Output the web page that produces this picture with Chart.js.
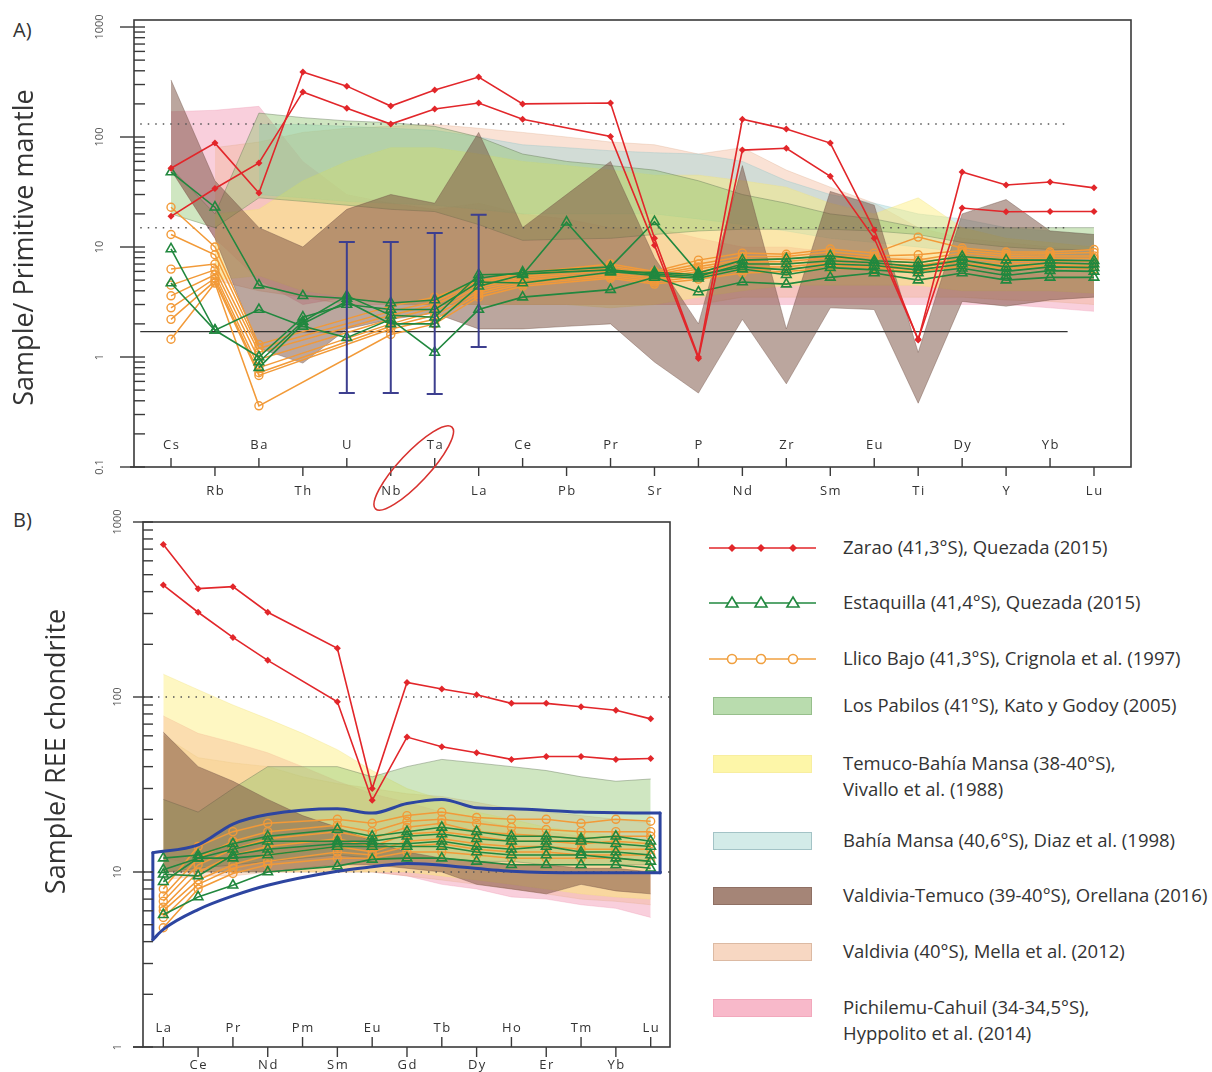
<!DOCTYPE html>
<html>
<head>
<meta charset="utf-8">
<script src="https://cdn.jsdelivr.net/npm/chart.js@4.4.1/dist/chart.umd.min.js"></script>
<style>
  html, body { margin: 0; padding: 0; background: #fff; }
  body { width: 1212px; height: 1072px; position: relative; overflow: hidden; font-family: "Open Sans", sans-serif; color: #333; }
  canvas { position: absolute; left: 0; }
  .panel { position: absolute; left: 13px; font-size: 20px; }
  .leg { position: absolute; left: 709px; width: 503px; height: 26px; }
  .leg svg { position: absolute; left: 0; top: 0; }
  .leg .rect { position: absolute; left: 4px; top: 4px; width: 97px; height: 16px; border: 1.5px solid; }
  .leg .tx { position: absolute; left: 134px; top: -1px; font-size: 18.5px; line-height: 26px; white-space: nowrap; }
</style>
</head>
<body>
<div class="panel" style="top:16px">A)</div>
<div class="panel" style="top:506px">B)</div>
<canvas id="cA" width="1212" height="512" style="top:0"></canvas>
<canvas id="cB" width="700" height="572" style="top:500px"></canvas>

<div class="leg" style="top:535px">
  <svg width="110" height="26"><line x1="0" y1="13" x2="107" y2="13" stroke="#e2262a" stroke-width="1.6"/>
    <polygon points="23,9 27,13 23,17 19,13" fill="#e2262a"/><polygon points="52,9 56,13 52,17 48,13" fill="#e2262a"/><polygon points="84,9 88,13 84,17 80,13" fill="#e2262a"/></svg>
  <div class="tx">Zarao (41,3°S), Quezada (2015)</div>
</div>
<div class="leg" style="top:590px">
  <svg width="110" height="26"><line x1="0" y1="13" x2="107" y2="13" stroke="#21883f" stroke-width="1.6"/>
    <polygon points="23,7 29,17 17,17" fill="#fff" stroke="#21883f" stroke-width="1.6"/><polygon points="52,7 58,17 46,17" fill="#fff" stroke="#21883f" stroke-width="1.6"/><polygon points="84,7 90,17 78,17" fill="#fff" stroke="#21883f" stroke-width="1.6"/></svg>
  <div class="tx">Estaquilla (41,4°S), Quezada (2015)</div>
</div>
<div class="leg" style="top:646px">
  <svg width="110" height="26"><line x1="0" y1="13" x2="107" y2="13" stroke="#f0a040" stroke-width="1.6"/>
    <circle cx="23" cy="13" r="4.5" fill="#fff" stroke="#f0a040" stroke-width="1.6"/><circle cx="52" cy="13" r="4.5" fill="#fff" stroke="#f0a040" stroke-width="1.6"/><circle cx="84" cy="13" r="4.5" fill="#fff" stroke="#f0a040" stroke-width="1.6"/></svg>
  <div class="tx">Llico Bajo (41,3°S), Crignola et al. (1997)</div>
</div>
<div class="leg" style="top:693px">
  <div class="rect" style="background:#b9dcae;border-color:#97bf8c"></div>
  <div class="tx">Los Pabilos (41°S), Kato y Godoy (2005)</div>
</div>
<div class="leg" style="top:751px">
  <div class="rect" style="background:#fdf6a8;border-color:#f8eea0"></div>
  <div class="tx">Temuco-Bahía Mansa (38-40°S),<br>Vivallo et al. (1988)</div>
</div>
<div class="leg" style="top:828px">
  <div class="rect" style="background:#d3ebe8;border-color:#a3c3c6"></div>
  <div class="tx">Bahía Mansa (40,6°S), Diaz et al. (1998)</div>
</div>
<div class="leg" style="top:883px">
  <div class="rect" style="background:#a58577;border-color:#8f7064"></div>
  <div class="tx">Valdivia-Temuco (39-40°S), Orellana (2016)</div>
</div>
<div class="leg" style="top:939px">
  <div class="rect" style="background:#f7d7c2;border-color:#dcbaa3"></div>
  <div class="tx">Valdivia (40°S), Mella et al. (2012)</div>
</div>
<div class="leg" style="top:995px">
  <div class="rect" style="background:#f8b9ca;border-color:#f2a8bc"></div>
  <div class="tx">Pichilemu-Cahuil (34-34,5°S),<br>Hyppolito et al. (2014)</div>
</div>

<script>
/* ---------- A) spider diagram, primitive mantle ---------- */
var catsA = ['Cs','Rb','Ba','Th','U','Nb','Ta','La','Ce','Pb','Pr','Sr','P','Nd','Zr','Sm','Eu','Ti','Dy','Y','Yb','Lu'];
var yTicksA = ['0.1', '1', '10', '100', '1000'];

var zaraoA1 = [52, 88, 31, 390, 290, 191, 268, 351, 200, null, 204, 12, 1.0, 145, 118, 88, 14.3, 1.43, 48, 36.6, 39, 34.5];
var zaraoA2 = [19, 34, 58, 257, 183, 131, 180, 204, 145, null, 101, 10.4, 0.97, 76, 79, 44, 12, 1.45, 22.6, 20.9, 21, 21];

var estaA1 = [48, 23, 4.5, 3.6, 3.4, 3.1, 3.3, 5.2, 5.9, null, 6.6, 17, 5.8, 7.6, 7.8, 8.3, 7.5, 7.2, 8.2, 7.6, 7.6, 7.5];
var estaA2 = [9.6, 1.75, 2.7, 1.9, 1.5, 2.2, 1.1, 2.7, 3.5, null, 4.1, 5.3, 3.9, 4.8, 4.6, 5.3, 5.8, 5.0, 5.8, 5.0, 5.3, 5.3];
var estaA3 = [4.7, 1.75, 1.0, 2.3, 3.0, 2.7, 2.7, 4.8, 4.7, null, 5.9, 5.9, 5.6, 6.6, 6.2, 7.0, 6.8, 6.2, 7.0, 6.0, 6.6, 6.5];
var estaA4 = [null, null, 0.9, 2.1, 3.6, 2.4, 2.3, 5.6, 5.7, null, 6.2, 5.7, 5.4, 7.0, 7.0, 7.5, 7.2, 6.6, 7.6, 6.6, 7.2, 7.0];
var estaA5 = [null, null, 0.8, 2.0, 3.2, 2.0, 2.0, 4.4, 5.6, 16.8, 6.0, 5.5, 5.2, 6.3, 5.6, 6.5, 6.2, 5.8, 6.4, 5.5, 6.1, 6.0];

var llicoA1 = [23, 10, 1.3, null, null, 2.9, 3.5, 4.9, 5.8, null, 7.0, 6.0, 7.6, 8.8, 8.6, 9.6, 8.8, 12.3, 9.8, 9.0, 9.0, 9.5];
var llicoA2 = [13, 8.5, 1.2, null, null, 2.6, 3.2, 4.7, 5.6, null, 6.7, 5.8, 7.0, 8.2, 8.2, 9.0, 8.3, 8.5, 9.3, 8.6, 8.7, 8.9];
var llicoA3 = [6.3, 7.0, 1.1, null, null, 2.4, 3.0, 4.5, 5.4, null, 6.4, 5.6, 6.6, 7.7, 7.8, 8.4, 7.9, 7.6, 8.8, 8.2, 8.3, 8.3];
var llicoA4 = [4.5, 6.2, 0.95, null, null, 2.2, 2.8, 4.3, 5.2, null, 6.1, 5.4, 6.3, 7.3, 7.4, 8.0, 7.5, 7.2, 8.3, 7.8, 7.9, 7.9];
var llicoA5 = [3.6, 5.6, 0.8, null, null, 2.0, 2.6, 4.1, 5.0, null, 5.8, 5.2, 6.0, 6.9, 7.0, 7.6, 7.1, 6.8, 7.8, 7.4, 7.5, 7.4];
var llicoA6 = [2.8, 5.2, 0.72, null, null, 1.9, 2.4, 3.9, 4.8, null, 5.6, 5.0, 5.7, 6.5, 6.6, 7.2, 6.8, 6.5, 7.4, 7.0, 7.1, 7.0];
var llicoA7 = [2.2, 4.9, 0.68, null, null, 1.8, 2.2, 3.7, 4.6, null, 5.4, 4.8, 5.4, 6.1, 6.3, 6.8, 6.5, 6.2, 7.0, 6.7, 6.8, 6.7];
var llicoA8 = [1.45, 4.7, 0.36, null, null, 1.6, 2.0, 3.5, 4.4, null, 5.2, 4.6, 5.1, 5.8, 6.0, 6.4, 6.2, 6.0, 6.7, 6.4, 6.5, 6.3];

var pabA_up = [52, 20, 165, 150, 140, 135, 125, 100, 70, 60, 55, 50, 40, 30, 25, 20, 18, 15, 15, 15, 15, 15];
var pabA_lo = [20, 15, 28, 26, 24, 22, 21, 16, 11.5, 11.8, 12, 13, 14, 14.5, 14.5, 14.5, 14, 13, 11, 10, 9.5, 9.5];
var temA_up = [null, 20, 22, 40, 60, 80, 80, 70, 60, 55, 50, 45, 45, 40, 35, 25, 20, 28, 15, 12, 11, 10];
var temA_lo = [null, 5, 5.5, 4, 3.5, 3, 3, 3, 3, 3, 2.8, 3, 3.5, 4, 4.5, 4.5, 4.5, 4.5, 4, 4, 4, 3.8];
var bahA_up = [null, null, 130, 130, 125, 120, 115, 100, 85, 80, 75, 72, 70, 60, 40, 30, 25, 20, 18, 15, 14, 13];
var bahA_lo = [null, null, 30, 28, 26, 25, 24, 22, 20, 20, 20, 20, 18, 16, 14, 12, 11, 10, 9, 9, 8, 8];
var vtA_up  = [330, 40, 15, 10, 22, 30, 25, 110, 15, 30, 60, 8, 2.0, 55, 1.8, 32, 24, 1.1, 20, 27, 14, 13];
var vtA_lo  = [50, 12, 1.2, 0.88, 1.8, 2.2, 2.5, 1.8, 1.8, 1.9, 2.0, 0.9, 0.47, 2.2, 0.57, 2.8, 2.7, 0.38, 3.2, 2.9, 3.3, 3.5];
var valA_up = [null, 80, 90, 110, 120, 125, 130, 120, 110, 100, 90, 85, 70, 80, 50, 35, 25, 15, 12, 11, 10, 9];
var valA_lo = [null, 5, 4, 3.5, 3, 3, 3, 3, 3, 3, 3, 3, 3, 3.5, 3.5, 3.5, 3.5, 3.5, 3.5, 3.3, 3.2, 3];
var picA_up = [170, 175, 190, 60, 30, 25, 22, 25, 20, 18, 15, 15, 12, 10, 10, 9, 8, 8, 7, 6, 5.5, 5];
var picA_lo = [50, 12, 5, 3, 3.5, 3, 3, 3, 3, 3, 3, 3, 3, 3, 3, 3, 3, 3, 3, 3, 2.8, 2.6];

// reference levels and error bars (U, Nb, Ta, La)
var refXA = [-0.7, 20.4];
var refDotA = [131, 15];
var refSolidA = 1.7;
var errIdx = [4, 5, 6, 7];
var errLo = [0.47, 0.47, 0.46, 1.23];
var errHi = [11.1, 11.1, 13.4, 19.6];

/* ---------- B) REE, chondrite ---------- */
var catsB = ['La','Ce','Pr','Nd','Pm','Sm','Eu','Gd','Tb','Dy','Ho','Er','Tm','Yb','Lu'];
var yTicksB = ['1', '10', '100', '1000'];

var zaraoB1 = [743, 416, 427, 305, null, 190, 30, 121, 111, 103, 92, 92, 88, 84, 75];
var zaraoB2 = [436, 305, 219, 162, null, 94, 25.7, 59, 52, 48, 44, 45.7, 45.7, 44, 44.5];

var estaB1 = [12, 12.5, 14.5, 16, null, 17.5, 16, 17, 18, 17, 16, 16, 15.5, 16, 15];
var estaB2 = [10.3, 12, 13.5, 15, null, 15, 15, 16, 16.5, 15.5, 15, 15, 15, 14.5, 14];
var estaB3 = [9.7, 9.5, 12.5, 13.5, null, 14.5, 14.5, 14.5, 15, 14, 13.5, 14, 13, 13, 12.5];
var estaB4 = [8.8, 12, 12, 12.5, null, 14, 14, 14, 14, 13, 12.5, 12.5, 12.5, 12, 11.5];
var estaB5 = [5.7, 7.2, 8.4, 10, null, 10.8, 11.8, 12, 12, 11.5, 11, 11, 11, 11, 10.5];

var llicoB1 = [8, 14, 17, 19, null, 20, 19, 21, 22, 20.5, 20, 20, 19, 20, 19.5];
var llicoB2 = [7.3, 12, 15, 17, null, 18.5, 17, 19.5, 20, 19, 18, 17.5, 17, 17, 17];
var llicoB3 = [6.8, 11, 13.5, 15.5, null, 17, 15.5, 18, 19, 17, 16.5, 16, 15.5, 16, 16];
var llicoB4 = [6.3, 10, 12.5, 14, null, 15.5, 14, 16.5, 17, 16, 15, 15, 14.5, 15, 14.5];
var llicoB5 = [6, 9, 11, 12.5, null, 14, 13, 15, 15.5, 14.5, 14, 14, 13.5, 13.5, 13.5];
var llicoB6 = [5.5, 8.5, 10.5, 11.5, null, 13, 12.5, 14, 14.5, 13.5, 13, 13, 12.5, 12.5, 12.5];
var llicoB7 = [4.8, 8, 9.8, 11, null, 12, 12, 13, 13, 12.5, 12, 12, 12, 12, 11.5];

var pabB_up = [26, 22, 30, 40, 40, 40, 35, 40, 44, 42, 40, 38, 35, 33, 34];
var pabB_lo = [10, 10.5, 11, 11.5, 12, 12.5, 12, 12, 12, 11.5, 11.5, 11, 11, 11, 11];
var temB_up = [135, 110, 90, 75, 62, 50, 38, 30, 26, 22, 20, 18, 17, 16, 15];
var temB_lo = [10, 10, 10, 10, 10, 10, 10, 10, 9.5, 9, 8.5, 8, 7.5, 7.2, 7];
var vtB_up  = [63, 40, 33, 26, 21, 18, 15, 13, 12, 11.5, 11, 11, 10.5, 10.5, 10];
var vtB_lo  = [10, 10, 10, 10, 10.5, 11, 11, 10.5, 10, 8.5, 8, 7.5, 8.5, 7.8, 7.5];
var valB_up = [60, 45, 42, 40, 35, 32, 30, 28, 27, 25, 23, 22, 21, 20, 19];
var valB_lo = [9, 9.5, 9.5, 10, 10, 10, 10, 9.5, 9, 8.5, 8, 7.5, 7, 6.8, 6.5];
var picB_up = [78, 62, 55, 48, 40, 33, 28, 25, 22, 20, 18, 17, 16, 15, 14];
var picB_lo = [12, 11, 10.5, 10, 10, 10, 10, 9.5, 8.5, 8, 7.2, 7, 6.5, 6.2, 5.5];

// blue envelope around Estaquilla / Llico Bajo: top curve, bottom curve, two sides
var envTopX = [-0.3, 1, 2, 3, 5, 6, 7, 8, 9, 10, 12, 14.27];
var envTopY = [12.9, 14.3, 18.8, 21.3, 23, 21.7, 24.6, 26, 23.3, 23, 22, 21.7];
var envBotX = [-0.3, 0, 1, 2, 3, 5, 6, 7, 10, 12, 14.27];
var envBotY = [4.1, 4.7, 6.1, 7.3, 8.4, 10.1, 10.7, 11.2, 10.1, 9.9, 9.9];
var xMinB = -0.583, xMaxB = 14.555;
var refDotB = [100, 10];

/* ---------- colours ---------- */
var RED = '#e2262a', GREEN = '#21883f', ORANGE = '#f29a38', ENV = '#2d45a0';

Chart.defaults.font.family = '"Open Sans", sans-serif';

function pts(arr) {
  var out = [];
  arr.forEach(function(v, i) { if (v !== null) out.push({ x: i, y: v }); });
  return out;
}
function xy(xs, ys) {
  return xs.map(function(x, i) { return { x: x, y: ys[i] }; });
}

function band(up, lo, fillCol, lineCol, ord) {
  return [
    { data: pts(up), fill: '+1', backgroundColor: fillCol, borderColor: lineCol, borderWidth: 0.8, pointRadius: 0, order: ord },
    { data: pts(lo), fill: false, borderColor: lineCol, borderWidth: 0.8, pointRadius: 0, order: ord }
  ];
}

function zarao(arr) {
  return { data: pts(arr), borderColor: RED, backgroundColor: RED, borderWidth: 1.6,
           pointStyle: 'rectRot', pointRadius: 3.5, pointBorderWidth: 0, order: 1 };
}
function esta(arr) {
  return { data: pts(arr), borderColor: GREEN, backgroundColor: 'rgba(255,255,255,0)', borderWidth: 1.6,
           pointStyle: 'triangle', pointRadius: 5.5, pointBorderWidth: 1.6, pointBorderColor: GREEN, order: 2 };
}
function llico(arr) {
  return { data: pts(arr), borderColor: ORANGE, backgroundColor: 'rgba(255,255,255,0)', borderWidth: 1.5,
           pointStyle: 'circle', pointRadius: 4, pointBorderWidth: 1.4, pointBorderColor: ORANGE, order: 3 };
}
function refLine(xs, v, dotted) {
  return { data: [{ x: xs[0], y: v }, { x: xs[1], y: v }], borderColor: dotted ? '#555' : '#333',
           borderWidth: dotted ? 1.5 : 1.4, borderDash: dotted ? [1.5, 6] : [], pointRadius: 0, order: 8 };
}
function envLine(data) {
  return { data: data, borderColor: ENV, borderWidth: 3, pointRadius: 0, fill: false,
           cubicInterpolationMode: 'monotone', borderJoinStyle: 'round', borderCapStyle: 'round', order: 0 };
}

/* ---------- axis decoration plugin ---------- */
function makeDecor(cfg) {
  return {
    id: 'decor',
    afterDraw: function(chart) {
      var ctx = chart.ctx, a = chart.chartArea;
      var xs = chart.scales.x, ys = chart.scales.y;
      ctx.save();
      ctx.strokeStyle = '#3a3a3a';
      ctx.lineWidth = 1.6;
      ctx.strokeRect(a.left, a.top, a.right - a.left, a.bottom - a.top);
      ctx.beginPath(); ctx.moveTo(a.left - cfg.axisExt, a.bottom); ctx.lineTo(a.left, a.bottom); ctx.stroke();

      // y tick marks: decades long and outside, others short and inside
      ctx.lineWidth = 1.4;
      ys.ticks.forEach(function(t) {
        var v = t.value;
        var e = Math.floor(Math.log10(v) + 1e-9);
        var s = v / Math.pow(10, e);
        if (Math.abs(s - Math.round(s)) > 1e-6) return;
        var py = ys.getPixelForValue(v);
        if (py < a.top - 1 || py > a.bottom + 1) return;
        ctx.beginPath();
        ctx.moveTo(Math.round(s) === 1 ? a.left - cfg.majorOut : a.left, py);
        ctx.lineTo(a.left + cfg.minorIn, py);
        ctx.stroke();
      });
      ctx.fillStyle = '#555';
      ctx.font = '11px "Open Sans"';
      ctx.textAlign = 'center';
      ctx.textBaseline = 'middle';
      cfg.yTicks.forEach(function(lbl) {
        var py = ys.getPixelForValue(parseFloat(lbl));
        ctx.save(); ctx.translate(cfg.yLabelX, py); ctx.rotate(-Math.PI / 2);
        ctx.fillText(lbl, 0, 0);
        ctx.restore();
      });

      // category ticks + staggered labels
      ctx.fillStyle = '#333';
      ctx.font = '13px "Open Sans"';
      ctx.letterSpacing = '1.5px';
      cfg.cats.forEach(function(c, i) {
        var px = xs.getPixelForValue(i);
        var up = i % 2 === 0;
        ctx.beginPath();
        ctx.moveTo(px, a.bottom);
        ctx.lineTo(px, up ? a.bottom - cfg.tickLen : a.bottom + cfg.tickLen);
        ctx.stroke();
        ctx.fillText(c, px + 0.75, up ? a.bottom - cfg.upLabel : a.bottom + cfg.downLabel);
      });
      ctx.letterSpacing = '0px';

      // axis title
      ctx.save();
      ctx.translate(cfg.titleX, (a.top + a.bottom) / 2 + cfg.titleDy);
      ctx.rotate(-Math.PI / 2);
      ctx.font = '27px "Open Sans"';
      ctx.fillStyle = '#333';
      ctx.fillText(cfg.title, 0, 0);
      ctx.restore();

      // error bars
      if (cfg.err) {
        ctx.strokeStyle = '#3d3f8f';
        ctx.lineWidth = 2;
        cfg.err.idx.forEach(function(ix, k) {
          var px = xs.getPixelForValue(ix);
          var y1 = ys.getPixelForValue(cfg.err.lo[k]), y2 = ys.getPixelForValue(cfg.err.hi[k]);
          ctx.beginPath();
          ctx.moveTo(px, y1); ctx.lineTo(px, y2);
          ctx.moveTo(px - 8, y1); ctx.lineTo(px + 8, y1);
          ctx.moveTo(px - 8, y2); ctx.lineTo(px + 8, y2);
          ctx.stroke();
        });
      }

      // red ellipse round the Nb / Ta labels
      if (cfg.ring) {
        var cx = (xs.getPixelForValue(cfg.ring[0]) + xs.getPixelForValue(cfg.ring[1])) / 2;
        ctx.strokeStyle = '#d8322f';
        ctx.lineWidth = 1.6;
        ctx.beginPath();
        ctx.ellipse(cx + 1, a.bottom + 1, 56, 15, -0.82, 0, Math.PI * 2);
        ctx.stroke();
      }
      ctx.restore();
    }
  };
}

/* ---------- chart A ---------- */
var dsA = [
  zarao(zaraoA1), zarao(zaraoA2),
  esta(estaA1), esta(estaA2), esta(estaA3), esta(estaA4), esta(estaA5),
  llico(llicoA1), llico(llicoA2), llico(llicoA3), llico(llicoA4),
  llico(llicoA5), llico(llicoA6), llico(llicoA7), llico(llicoA8),
  refLine(refXA, refDotA[0], true), refLine(refXA, refDotA[1], true), refLine(refXA, refSolidA, false)
]
  .concat(band(vtA_up, vtA_lo, 'rgba(120,78,62,0.5)', 'rgba(110,80,70,0.5)', 35))
  .concat(band(pabA_up, pabA_lo, 'rgba(140,196,108,0.42)', 'rgba(100,120,90,0.55)', 40))
  .concat(band(temA_up, temA_lo, 'rgba(252,238,120,0.45)', 'rgba(240,225,120,0.4)', 45))
  .concat(band(bahA_up, bahA_lo, 'rgba(150,212,214,0.4)', 'rgba(140,190,195,0.4)', 50))
  .concat(band(valA_up, valA_lo, 'rgba(242,180,145,0.38)', 'rgba(220,170,140,0.4)', 55))
  .concat(band(picA_up, picA_lo, 'rgba(240,140,172,0.42)', 'rgba(235,150,175,0.4)', 60));

new Chart(document.getElementById('cA'), {
  type: 'line',
  data: { datasets: dsA },
  options: {
    responsive: false,
    animation: false,
    layout: { padding: { top: 20, right: 81, left: 0, bottom: 0 } },
    plugins: { legend: { display: false }, tooltip: { enabled: false } },
    scales: {
      x: { type: 'linear', min: -0.842, max: 21.842,
           grid: { display: false }, border: { display: false }, ticks: { display: false },
           afterFit: function(s) { s.height = 45; } },
      y: { type: 'logarithmic', min: 0.1, max: 1158,
           grid: { display: false }, border: { display: false }, ticks: { display: false },
           afterFit: function(s) { s.width = 134; } }
    }
  },
  plugins: [makeDecor({
    cats: catsA, yTicks: yTicksA, yLabelX: 100, majorOut: 14, minorIn: 11, axisExt: 4,
    tickLen: 9, upLabel: 22, downLabel: 24,
    title: 'Sample/ Primitive mantle', titleX: 25, titleDy: 4,
    err: { idx: errIdx, lo: errLo, hi: errHi }, ring: [5, 6]
  })]
});

/* ---------- chart B ---------- */
var dsB = [
  zarao(zaraoB1), zarao(zaraoB2),
  esta(estaB1), esta(estaB2), esta(estaB3), esta(estaB4), esta(estaB5),
  llico(llicoB1), llico(llicoB2), llico(llicoB3), llico(llicoB4),
  llico(llicoB5), llico(llicoB6), llico(llicoB7),
  envLine(xy(envTopX, envTopY)),
  envLine(xy(envBotX, envBotY)),
  envLine(xy([envTopX[0], envBotX[0]], [envTopY[0], envBotY[0]])),
  envLine(xy([envTopX[envTopX.length - 1], envBotX[envBotX.length - 1]],
             [envTopY[envTopY.length - 1], envBotY[envBotY.length - 1]])),
  refLine([xMinB, xMaxB], refDotB[0], true), refLine([xMinB, xMaxB], refDotB[1], true)
]
  .concat(band(vtB_up, vtB_lo, 'rgba(120,78,62,0.5)', 'rgba(110,80,70,0.5)', 35))
  .concat(band(pabB_up, pabB_lo, 'rgba(140,196,108,0.42)', 'rgba(100,120,90,0.55)', 40))
  .concat(band(temB_up, temB_lo, 'rgba(252,238,120,0.45)', 'rgba(240,225,120,0.4)', 45))
  .concat(band(valB_up, valB_lo, 'rgba(242,180,145,0.38)', 'rgba(220,170,140,0.4)', 55))
  .concat(band(picB_up, picB_lo, 'rgba(240,140,172,0.42)', 'rgba(235,150,175,0.4)', 60));

new Chart(document.getElementById('cB'), {
  type: 'line',
  data: { datasets: dsB },
  options: {
    responsive: false,
    animation: false,
    layout: { padding: { top: 22, right: 30, left: 0, bottom: 0 } },
    plugins: { legend: { display: false }, tooltip: { enabled: false } },
    scales: {
      x: { type: 'linear', min: xMinB, max: xMaxB,
           grid: { display: false }, border: { display: false }, ticks: { display: false },
           afterFit: function(s) { s.height = 25; } },
      y: { type: 'logarithmic', min: 1, max: 1000,
           grid: { display: false }, border: { display: false }, ticks: { display: false },
           afterFit: function(s) { s.width = 143; } }
    }
  },
  plugins: [makeDecor({
    cats: catsB, yTicks: yTicksB, yLabelX: 118, majorOut: 10, minorIn: 10, axisExt: 10,
    tickLen: 10, upLabel: 19, downLabel: 18,
    title: 'Sample/ REE chondrite', titleX: 57, titleDy: -33
  })]
});
</script>
</body>
</html>
